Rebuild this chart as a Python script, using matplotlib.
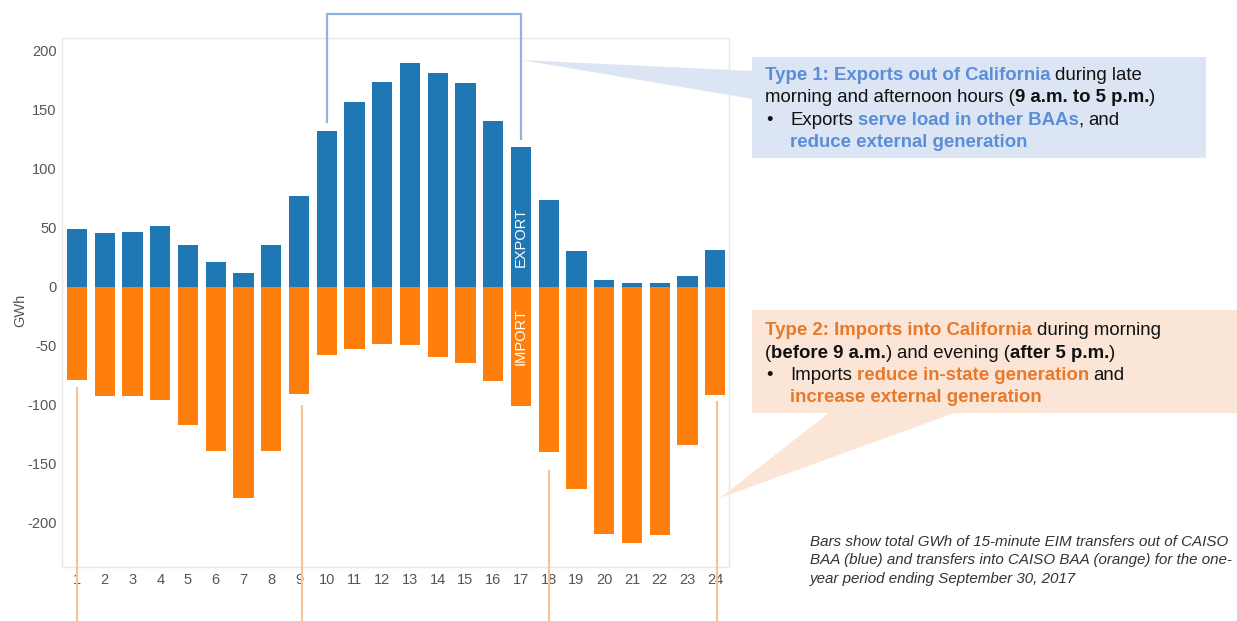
import matplotlib
matplotlib.use("Agg")
import matplotlib.pyplot as plt
from matplotlib.patches import Rectangle, Polygon
from matplotlib.lines import Line2D

plt.rcParams["axes.unicode_minus"] = False

# ---------------- data ----------------
hours = list(range(1, 25))
export_gwh = [49, 45.5, 47, 52, 36, 21, 12, 35.5, 77.5, 132, 157, 174, 190,
              181, 173, 141, 119, 73.5, 30.5, 5.5, 3, 3, 9.5, 31.5]
import_gwh = [-79, -92, -92.5, -96, -117, -139, -179, -139, -90.5, -58, -52.5, -48, -49.5,
              -59, -64, -79.5, -101, -140, -171, -209, -217, -210, -133.5, -91.5]
yticks = [-200, -150, -100, -50, 0, 50, 100, 150, 200]

W, H = 1237, 621
BLUE = "#1f77b4"
ORANGE = "#ff7f0e"
TXT_BLUE = "#5a8ed8"
TXT_ORANGE = "#e8782a"
TXT_BLACK = "#111111"
FONT = "Liberation Sans"

fig = plt.figure(figsize=(W / 100, H / 100), dpi=100)
fig.patch.set_facecolor("white")
ax = fig.add_axes([62 / W, 1 - 567 / H, (729 - 62) / W, (567 - 38) / H])

ax.bar(hours, export_gwh, width=0.73, color=BLUE, zorder=2)
ax.bar(hours, import_gwh, width=0.73, color=ORANGE, zorder=2)

ax.set_xlim(0.46, 24.5)
ax.set_ylim(-237.3, 211)
ax.set_yticks(yticks)
ax.set_xticks(hours)
ax.set_xticklabels([str(h) for h in hours])
ax.tick_params(axis="both", length=0, labelsize=10.5, labelcolor="#555555", pad=4)
for lab in ax.get_xticklabels() + ax.get_yticklabels():
    lab.set_family(FONT)
for s in ax.spines.values():
    s.set_color("#e8e8e8")
    s.set_linewidth(1)


def fx(x):
    return x / W


def fy(y):
    return 1 - y / H


fig.text(fx(20), fy(310), "GWh", rotation=90, fontsize=10.5, color="#555555",
         family=FONT, ha="center", va="center")

# EXPORT / IMPORT labels on hour 17
ax.text(17, 42, "EXPORT", rotation=90, color="white", fontsize=10.5, family=FONT,
        ha="center", va="center", zorder=3)
ax.text(17, -42, "IMPORT", rotation=90, color="white", fontsize=10.5, family=FONT,
        ha="center", va="center", zorder=3)

# blue bracket over hours 10-17
bx = [10, 10, 17, 17]
by = [export_gwh[9] + 8, 231, 231, export_gwh[16] + 6]
ax.add_line(Line2D(bx, by, color="#8db3e2", lw=1.6, clip_on=False, zorder=4))

# orange vertical markers
for h, off in [(1, -7), (9, -10), (18, -16), (24, -6)]:
    xv = h + (0.1 if h == 9 else 0.06 if h == 24 else 0)
    ax.add_line(Line2D([xv, xv], [import_gwh[h - 1] + off, -300], color="#f8c294",
                       lw=1.5, clip_on=False, zorder=4))

# callout boxes and wedges (figure pixel coords, top-left origin)
BOX1 = "#dce5f3"
BOX2 = "#fbe5d6"
fig.patches.append(Polygon([(fx(521), fy(60)), (fx(753), fy(71)), (fx(753), fy(99))],
                           closed=True, transform=fig.transFigure, facecolor=BOX1,
                           edgecolor="none", zorder=1))
fig.patches.append(Rectangle((fx(752), fy(158)), (1206 - 752) / W, (158 - 57) / H,
                             transform=fig.transFigure, facecolor=BOX1, edgecolor="none",
                             zorder=1))
fig.patches.append(Polygon([(fx(720), fy(498)), (fx(830), fy(412)), (fx(957), fy(412))],
                           closed=True, transform=fig.transFigure, facecolor=BOX2,
                           edgecolor="none", zorder=1))
fig.patches.append(Rectangle((fx(752), fy(413)), (1237 - 752) / W, (413 - 310) / H,
                             transform=fig.transFigure, facecolor=BOX2, edgecolor="none",
                             zorder=1))

renderer = fig.canvas.get_renderer()
SIZE = 13.4
EM = SIZE * 100 / 72
SPACE = 0.25 * EM


def run(pieces, x, y, size=SIZE):
    cur = x
    for txt, color, bold in pieces:
        if txt.startswith(" "):
            cur += SPACE
            txt = txt[1:]
        t = fig.text(fx(cur), fy(y), txt, color=color, fontsize=size, family=FONT,
                     weight="bold" if bold else "normal", ha="left", va="baseline", zorder=5)
        bb = t.get_window_extent(renderer)
        cur = bb.x1


# box 1 text
run([("Type 1: Exports out of California", TXT_BLUE, True),
     (" during late", TXT_BLACK, False)], 765, 80)
run([("morning and afternoon hours (", TXT_BLACK, False),
     ("9 a.m. to 5 p.m.", TXT_BLACK, True),
     (")", TXT_BLACK, False)], 765, 102.5)
run([("\u2022", TXT_BLACK, False)], 766, 125)
run([("Exports", TXT_BLACK, False),
     (" serve load in other BAAs", TXT_BLUE, True),
     (",", TXT_BLACK, False),
     (" and", TXT_BLACK, False)], 790, 125)
run([("reduce external generation", TXT_BLUE, True)], 790, 147.5)

# box 2 text
run([("Type 2: Imports into California", TXT_ORANGE, True),
     (" during morning", TXT_BLACK, False)], 765, 335)
run([("(", TXT_BLACK, False),
     ("before 9 a.m.", TXT_BLACK, True),
     (")", TXT_BLACK, False),
     (" and evening (", TXT_BLACK, False),
     ("after 5 p.m.", TXT_BLACK, True),
     (")", TXT_BLACK, False)], 765, 357.5)
run([("\u2022", TXT_BLACK, False)], 766, 380)
run([("Imports", TXT_BLACK, False),
     (" reduce in-state generation", TXT_ORANGE, True),
     (" and", TXT_BLACK, False)], 790, 380)
run([("increase external generation", TXT_ORANGE, True)], 790, 402.5)

# footnote
note_lines = ["Bars show total GWh of 15-minute EIM transfers out of CAISO",
              "BAA (blue) and transfers into CAISO BAA (orange) for the one-",
              "year period ending September 30, 2017"]
for i, line in enumerate(note_lines):
    fig.text(fx(810), fy(546 + 18.3 * i), line, fontsize=10.9, style="italic", family=FONT,
             color="#333333", ha="left", va="baseline")

fig.savefig("out.png", dpi=100)
